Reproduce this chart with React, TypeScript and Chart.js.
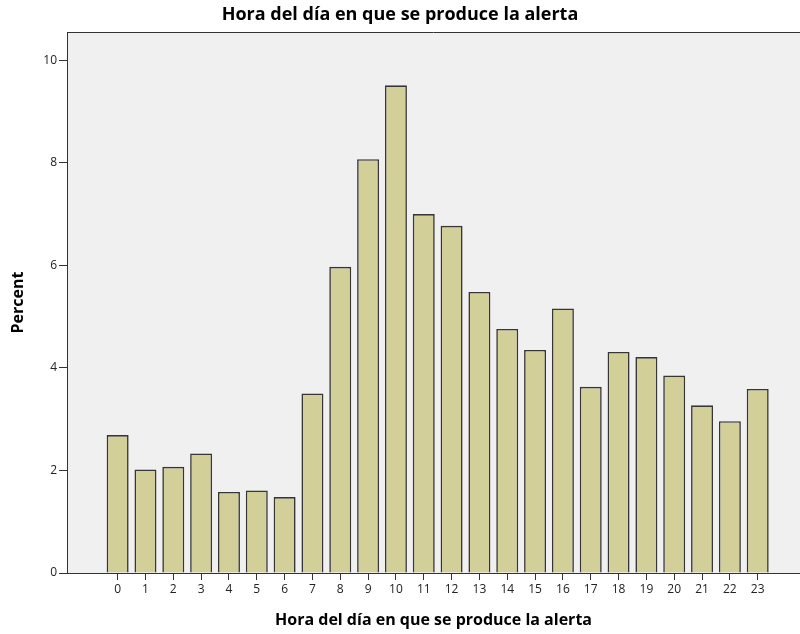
import React, { useEffect, useRef } from "react";
import { Chart, registerables } from "chart.js";

Chart.register(...registerables);

const hours = ["0","1","2","3","4","5","6","7","8","9","10","11","12","13","14","15","16","17","18","19","20","21","22","23"];
const percent = [2.69, 2.02, 2.07, 2.33, 1.58, 1.61, 1.48, 3.50, 5.97, 8.07, 9.51, 7.00, 6.77, 5.48, 4.76, 4.35, 5.16, 3.63, 4.31, 4.21, 3.85, 3.27, 2.96, 3.59];
const yTicks = [0, 2, 4, 6, 8, 10];
const titleText = "Hora del día en que se produce la alerta";
const xTitle = "Hora del día en que se produce la alerta";
const yTitle = "Percent";

const plotBg = {
  id: "plotBg",
  beforeDraw(chart: any) {
    const { ctx, chartArea } = chart;
    if (!chartArea) return;
    ctx.save();
    ctx.fillStyle = "#f0f0f0";
    ctx.fillRect(chartArea.left, chartArea.top, chartArea.right - chartArea.left, chartArea.bottom - chartArea.top);
    ctx.strokeStyle = "#333";
    ctx.lineWidth = 1;
    ctx.beginPath();
    ctx.moveTo(chartArea.left, chartArea.top + 0.5);
    ctx.lineTo(chartArea.right, chartArea.top + 0.5);
    ctx.stroke();
    ctx.restore();
  },
};

export default function App() {
  const ref = useRef<HTMLCanvasElement>(null);
  useEffect(() => {
    document.body.style.margin = "0";
    const canvas = ref.current!;
    const chart = new Chart(canvas, {
      type: "bar",
      data: {
        datasets: [
          {
            data: percent.map((v, i) => ({ x: i, y: v })),
            backgroundColor: "#d3cf98",
            borderColor: "#363636",
            borderWidth: 1.6,
            barPercentage: 0.79,
            categoryPercentage: 1,
          },
        ],
      },
      options: {
        animation: false,
        responsive: false,
        maintainAspectRatio: false,
        layout: { padding: 0 },
        plugins: {
          legend: { display: false },
          tooltip: { enabled: false },
          title: {
            display: true,
            text: titleText,
            color: "#000",
            font: { family: "'Open Sans'", size: 18, weight: "bold" },
            padding: { top: 4, bottom: 6.4 },
          },
        },
        scales: {
          x: {
            type: "linear",
            offset: false,
            min: -1.82,
            max: 24.52,
            afterBuildTicks: (scale: any) => {
              scale.ticks = hours.map((_, i) => ({ value: i }));
            },
            afterFit: (scale: any) => {
              scale.height = 61;
            },
            ticks: {
              autoSkip: false,
              maxRotation: 0,
              color: "#222",
              font: { family: "'Open Sans'", size: 12 },
              padding: 2,
              callback: (v: any) => hours[v as number] ?? "",
            },
            grid: { display: true, offset: false, drawOnChartArea: false, drawTicks: true, tickLength: 7, color: "#333" },
            border: { display: true, color: "#333", width: 1 },
            title: {
              display: true,
              text: xTitle,
              color: "#000",
              font: { family: "'Open Sans'", size: 16, weight: "bold" },
              padding: { top: 0, bottom: 4.4 },
            },
          },
          y: {
            min: 0,
            max: 10.55,
            afterBuildTicks: (scale: any) => {
              scale.ticks = yTicks.map((v) => ({ value: v }));
            },
            afterFit: (scale: any) => {
              scale.width = 67;
            },
            ticks: {
              color: "#222",
              font: { family: "'Open Sans'", size: 12 },
              padding: 2,
            },
            grid: { display: true, drawOnChartArea: false, drawTicks: true, tickLength: 8, color: "#333" },
            border: { display: true, color: "#333", width: 1 },
            title: {
              display: true,
              text: yTitle,
              color: "#000",
              font: { family: "'Open Sans'", size: 16, weight: "bold" },
              padding: { top: 9, bottom: 0 },
            },
          },
        },
      },
      plugins: [plotBg],
    } as any);
    return () => chart.destroy();
  }, []);
  return (
    <div style={{ width: 800, height: 634, background: "#fff" }}>
      <canvas ref={ref} width={800} height={634} />
    </div>
  );
}
